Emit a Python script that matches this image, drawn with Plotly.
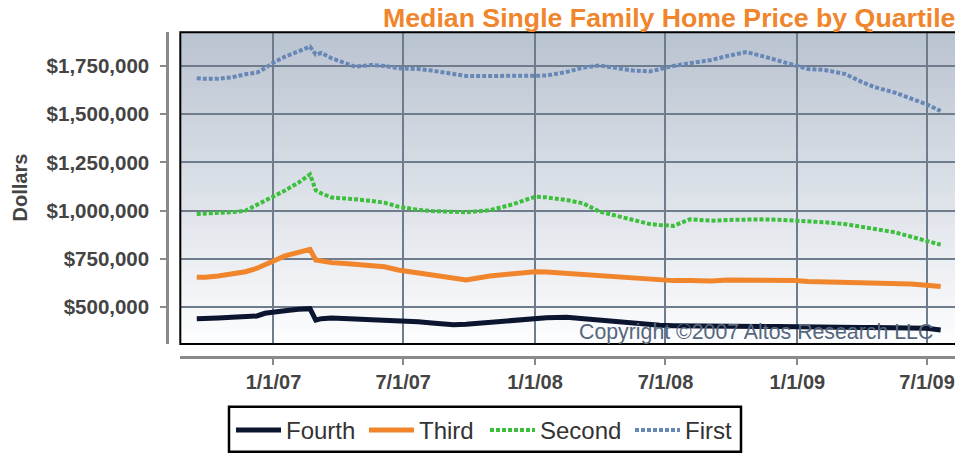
import plotly.graph_objects as go

# ---- data ----
dates = [
    "2006-09-16", "2006-09-28", "2006-10-16", "2006-11-04", "2006-11-23", "2006-12-09",
    "2006-12-20", "2007-01-01", "2007-01-17", "2007-02-05", "2007-02-21", "2007-03-01",
    "2007-03-09", "2007-03-23", "2007-04-11", "2007-04-25", "2007-05-18", "2007-06-05",
    "2007-06-24", "2007-07-22", "2007-08-10", "2007-08-28", "2007-09-09", "2007-09-27",
    "2007-10-30", "2007-12-01", "2008-01-01", "2008-01-17", "2008-02-14", "2008-03-08",
    "2008-03-31", "2008-04-24", "2008-05-17", "2008-06-09", "2008-06-23", "2008-07-12",
    "2008-08-04", "2008-09-03", "2008-09-26", "2008-10-22", "2008-11-12", "2008-12-05",
    "2008-12-28", "2009-01-16", "2009-02-08", "2009-03-08", "2009-03-31", "2009-04-19",
    "2009-05-17", "2009-06-09", "2009-06-30", "2009-07-20",
]

first = [
    1685000, 1682000, 1683000, 1690000, 1706000, 1714000, 1737000, 1766000, 1797000, 1827000,
    1849000, 1808000, 1816000, 1789000, 1763000, 1745000, 1754000, 1749000, 1737000, 1733000,
    1725000, 1714000, 1706000, 1697000, 1697000, 1697000, 1697000, 1699000, 1718000, 1740000,
    1751000, 1740000, 1725000, 1720000, 1733000, 1749000, 1763000, 1780000, 1801000, 1821000,
    1801000, 1776000, 1754000, 1733000, 1728000, 1708000, 1668000, 1639000, 1611000, 1578000,
    1551000, 1516000,
]

second = [
    983000, 984000, 987000, 992000, 1000000, 1030000, 1052000, 1072000, 1104000, 1145000,
    1188000, 1105000, 1089000, 1068000, 1064000, 1059000, 1050000, 1041000, 1021000, 1004000,
    998000, 995000, 995000, 992000, 1002000, 1033000, 1072000, 1069000, 1055000, 1038000,
    995000, 973000, 955000, 931000, 926000, 921000, 955000, 948000, 952000, 955000,
    955000, 953000, 950000, 943000, 940000, 931000, 917000, 905000, 888000, 865000,
    845000, 824000,
]

third = [
    655000, 655000, 662000, 671000, 684000, 702000, 723000, 740000, 766000, 785000,
    800000, 745000, 740000, 731000, 726000, 723000, 717000, 710000, 693000, 679000,
    667000, 658000, 650000, 641000, 662000, 676000, 684000, 683000, 676000, 671000,
    662000, 653000, 650000, 645000, 641000, 638000, 638000, 636000, 641000, 641000,
    641000, 640000, 638000, 633000, 631000, 631000, 631000, 631000, 627000, 621000,
    614000, 607000,
]

fourth = [
    441000, 441000, 445000, 448000, 450000, 455000, 469000, 477000, 482000, 490000,
    493000, 434000, 441000, 445000, 445000, 439000, 436000, 434000, 431000, 425000,
    419000, 414000, 410000, 412000, 422000, 434000, 443000, 446000, 448000, 441000,
    431000, 422000, 414000, 410000, 407000, 405000, 403000, 402000, 402000, 400000,
    400000, 400000, 398000, 398000, 398000, 396000, 396000, 396000, 394000, 393000,
    391000, 383000,
]

x_tick_vals = ["2007-01-01", "2007-07-01", "2008-01-01", "2008-07-01", "2009-01-01", "2009-07-01"]
x_tick_text = ["1/1/07", "7/1/07", "1/1/08", "7/1/08", "1/1/09", "7/1/09"]
y_tick_vals = [500000, 750000, 1000000, 1250000, 1500000, 1750000]
y_tick_text = ["$500,000", "$750,000", "$1,000,000", "$1,250,000", "$1,500,000", "$1,750,000"]

# name, values, colour, width, dash, legend id, legend-sample left edge (px)
series = [
    ("Fourth", fourth, "#0B1530", 5, "solid", "legend", 237),
    ("Third", third, "#F0852C", 5, "solid", "legend2", 370),
    ("Second", second, "#3CBF3C", 4, "4px,2px", "legend3", 491),
    ("First", first, "#6787B7", 4, "4px,2px", "legend4", 636),
]

W, H = 955, 453
FONT = "Liberation Sans, Arial, sans-serif"

fig = go.Figure()
for name, vals, color, width, dash, lg, _ in series:
    fig.add_trace(go.Scatter(
        x=dates, y=vals, name=name, mode="lines", legend=lg,
        line=dict(color=color, width=width, dash=dash),
    ))

# plot geometry (pixels -> paper fractions)
left_px, top_px, bottom_px = 180.3, 32.3, 344.0
xdom = [left_px / W, 1.0]
ydom = [1 - bottom_px / H, 1 - top_px / H]

# gradient background as stacked bands
top_rgb = (185, 195, 208)
bot_rgb = (253, 253, 254)
N = 60
shapes = []
for i in range(N):
    t = (i + 0.5) / N
    c = tuple(round(bot_rgb[k] + (top_rgb[k] - bot_rgb[k]) * t) for k in range(3))
    shapes.append(dict(
        type="rect", xref="x domain", yref="y domain",
        x0=0, x1=1.02, y0=i / N, y1=(i + 1) / N + 0.002,
        fillcolor="rgb(%d,%d,%d)" % c, line=dict(width=0), layer="below",
    ))
# black frame round the plot
shapes.append(dict(
    type="rect", xref="x domain", yref="y domain", x0=0, x1=1.02, y0=0, y1=1,
    line=dict(color="#000000", width=2), fillcolor="rgba(0,0,0,0)", layer="above",
))
# legend box
shapes.append(dict(
    type="rect", xref="paper", yref="paper",
    x0=229 / W, x1=741 / W, y0=1 - 451.7 / H, y1=1 - 406.7 / H,
    line=dict(color="#000000", width=2.5), fillcolor="white", layer="below",
))

legend_common = dict(
    orientation="h", yanchor="top", xanchor="left", y=1 - 408 / H,
    bgcolor="rgba(0,0,0,0)", borderwidth=0,
    font=dict(size=24, color="#333333", family=FONT),
    itemwidth=45,
)
legends = {}
for name, vals, color, width, dash, lg, sx in series:
    legends[lg] = dict(legend_common, x=(sx - 6) / W)

fig.update_layout(
    width=W, height=H, template="none",
    margin=dict(l=0, r=0, t=0, b=0),
    paper_bgcolor="white", plot_bgcolor="white",
    font=dict(family=FONT, color="#444444"),
    showlegend=True,
    shapes=shapes,
    xaxis=dict(
        domain=xdom, range=["2006-08-24", "2009-08-09"], type="date",
        anchor="free", position=1 - 357.3 / H,
        tickvals=x_tick_vals, ticktext=x_tick_text,
        tickfont=dict(size=20, weight="bold", color="#444444", family=FONT),
        showgrid=True, gridcolor="#6E7C8B", gridwidth=2,
        showline=True, linecolor="#8A8A8A", linewidth=3,
        ticks="outside", ticklen=6, tickwidth=2, tickcolor="#8A8A8A",
        zeroline=False, automargin=False,
    ),
    yaxis=dict(
        domain=ydom, range=[310000, 1923000],
        anchor="free", position=167.3 / W,
        tickvals=y_tick_vals, ticktext=y_tick_text,
        tickfont=dict(size=20.5, weight="bold", color="#444444", family=FONT),
        ticklabelstandoff=7,
        showgrid=True, gridcolor="#6E7C8B", gridwidth=2,
        showline=True, linecolor="#8A8A8A", linewidth=3,
        ticks="outside", ticklen=6, tickwidth=2, tickcolor="#8A8A8A",
        zeroline=False, automargin=False,
    ),
    annotations=[
        dict(text="<b>Median Single Family Home Price by Quartile</b>",
             xref="paper", yref="paper", x=957 / W, y=1 - 18 / H,
             xanchor="right", yanchor="middle", showarrow=False,
             font=dict(size=26.7, color="#F0852C", family=FONT)),
        dict(text="<b>Dollars</b>", xref="paper", yref="paper",
             x=19 / W, y=1 - 187.5 / H, xanchor="center", yanchor="middle",
             textangle=-90, showarrow=False,
             font=dict(size=20, color="#444444", family=FONT)),
        dict(text="Copyright ©2007 Altos Research LLC", xref="paper", yref="paper",
             x=935 / W, y=1 - 331.5 / H, xanchor="right", yanchor="middle",
             showarrow=False, font=dict(size=21.3, color="#56677C", family=FONT)),
    ],
    **legends,
)

fig.write_html("out.html", config={"displayModeBar": False},
               post_script="document.body.style.margin='0';")
